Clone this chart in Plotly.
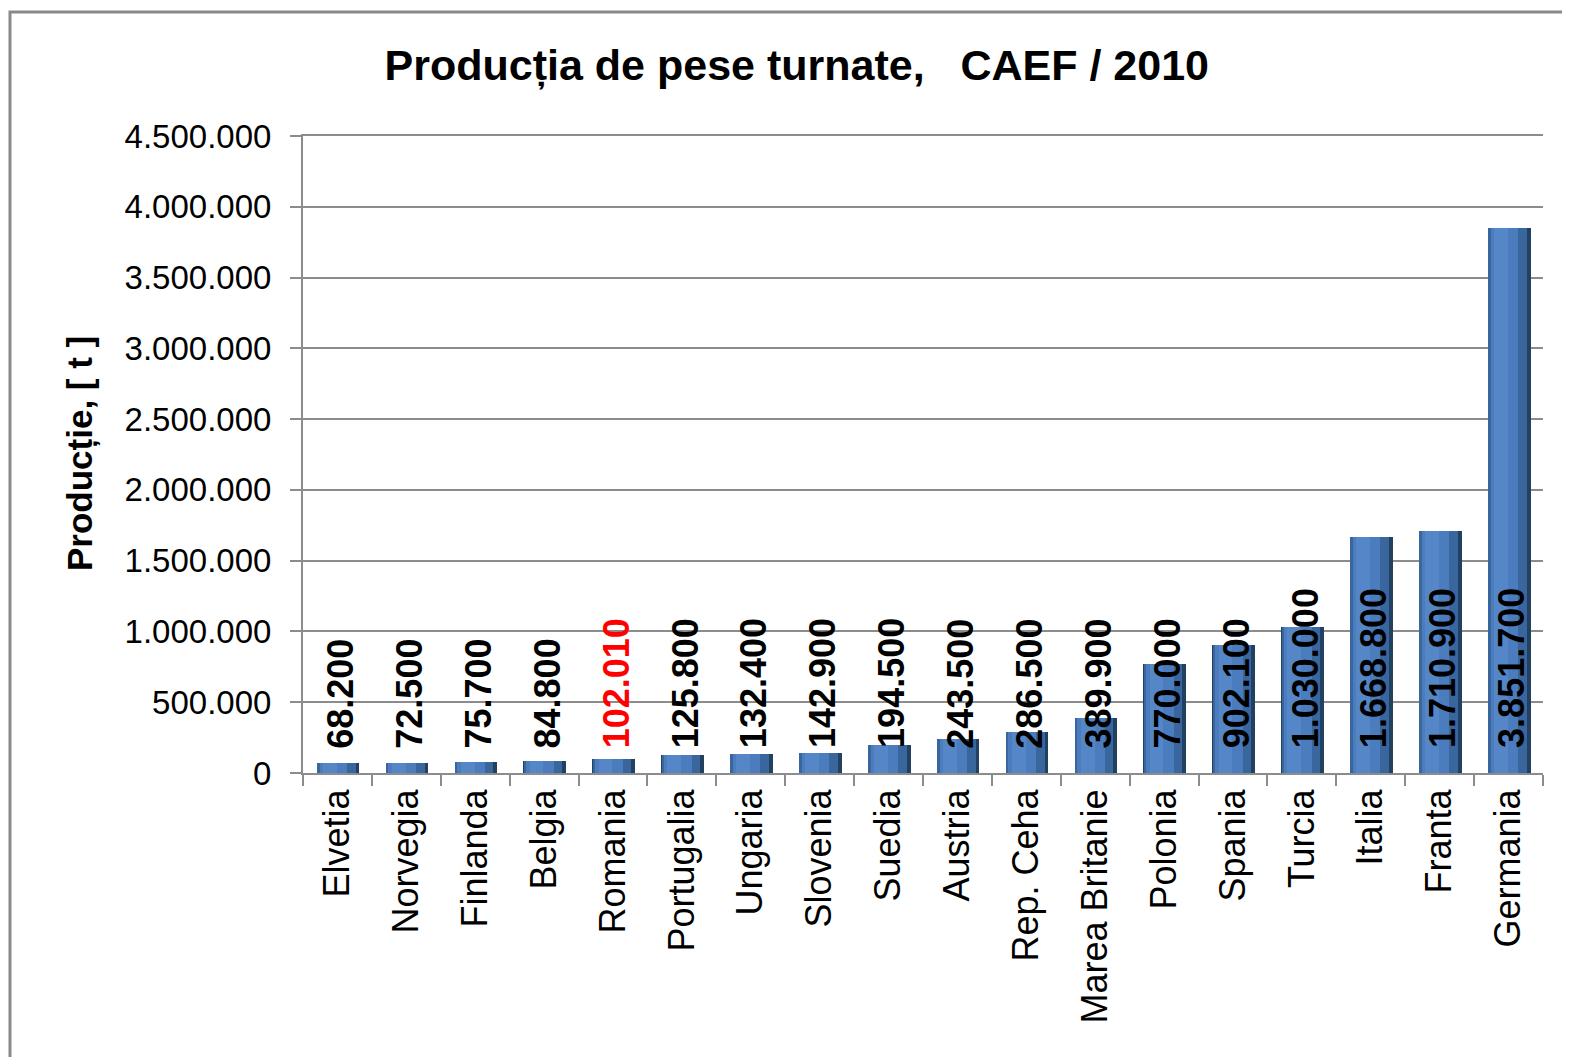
import plotly.graph_objects as go

# ---- data ----
countries = ["Elvetia", "Norvegia", "Finlanda", "Belgia", "Romania", "Portugalia",
             "Ungaria", "Slovenia", "Suedia", "Austria", "Rep. Ceha", "Marea Britanie",
             "Polonia", "Spania", "Turcia", "Italia", "Franta", "Germania"]
production = [68200, 72500, 75700, 84800, 102010, 125800, 132400, 142900, 194500,
              243500, 286500, 389900, 770000, 902100, 1030000, 1668800, 1710900, 3851700]
value_labels = ["68.200", "72.500", "75.700", "84.800", "102.010", "125.800", "132.400",
                "142.900", "194.500", "243.500", "286.500", "389.900", "770.000",
                "902.100", "1.030.000", "1.668.800", "1.710.900", "3.851.700"]
highlight = "Romania"
y_tick_vals = [0, 500000, 1000000, 1500000, 2000000, 2500000, 3000000, 3500000, 4000000, 4500000]
y_tick_text = ["0", "500.000", "1.000.000", "1.500.000", "2.000.000", "2.500.000",
               "3.000.000", "3.500.000", "4.000.000", "4.500.000"]

title_text = "Producția de pese turnate,\u00a0\u00a0 CAEF / 2010"
y_title = "Producție, [ t ]"

# ---- style ----
FONT = "Liberation Sans, Arial, sans-serif"
GRID = "#8c8c8c"
LABEL_BASE = 160000  # data-label baseline (value units)

fig = go.Figure()
# layered bars to imitate the shaded cylinder look
layers = [
    (0.62, -0.30, "#22405f"),
    (0.56, -0.295, "#3a669e"),
    (0.40, -0.26, "#4a7cbe"),
    (0.20, -0.21, "#5587c8"),
]
for w, off, col in layers:
    fig.add_trace(go.Bar(
        x=countries, y=production, width=w, offset=off,
        marker=dict(color=col, line=dict(width=0)),
        hoverinfo="skip", showlegend=False,
    ))

annotations = []
for c, lab in zip(countries, value_labels):
    annotations.append(dict(
        x=c, y=LABEL_BASE, xref="x", yref="y", text=lab, showarrow=False,
        textangle=-90, xanchor="center", yanchor="bottom", xshift=3,
        font=dict(family=FONT, size=36, weight="bold",
                  color="#ff0000" if c == highlight else "#000000"),
    ))
# y axis title
annotations.append(dict(
    x=-0.18, y=0.502, xref="paper", yref="paper", text=y_title, showarrow=False,
    textangle=-90, xanchor="center", yanchor="middle",
    font=dict(family=FONT, size=35, weight="bold", color="#000000"),
))

fig.update_layout(
    width=1562, height=1049,
    margin=dict(l=295, r=27, t=128, b=284),
    paper_bgcolor="white", plot_bgcolor="white",
    barmode="overlay", bargap=0,
    title=dict(text=title_text, x=0.505, y=0.946, xref="container", yref="container",
               xanchor="center", yanchor="middle",
               font=dict(family=FONT, size=43, weight="bold", color="#000000")),
    annotations=annotations,
    shapes=[dict(type="rect", xref="paper", yref="paper",
                 x0=-0.2363, x1=1.03, y0=-0.46, y1=1.1947,
                 line=dict(color="#8a8a8a", width=3), fillcolor="rgba(0,0,0,0)",
                 layer="below")],
    font=dict(family=FONT, color="#000000"),
)
fig.update_xaxes(
    type="category", categoryorder="array", categoryarray=countries,
    showline=True, mirror=True, linecolor=GRID, linewidth=2,
    ticks="outside", ticklen=11, tickwidth=2, tickcolor=GRID, tickson="boundaries",
    tickangle=-90, tickfont=dict(family=FONT, size=36, color="#000000"),
    showgrid=False, zeroline=False,
)
fig.update_yaxes(
    range=[0, 4500000], tickvals=y_tick_vals, ticktext=y_tick_text,
    showline=True, linecolor=GRID, linewidth=2,
    ticks="outside", ticklen=11, tickwidth=2, tickcolor=GRID,
    tickfont=dict(family=FONT, size=33, color="#000000"), ticklabelstandoff=12,
    showgrid=True, gridcolor=GRID, gridwidth=2, zeroline=False,
)

fig.write_html("out.html")
